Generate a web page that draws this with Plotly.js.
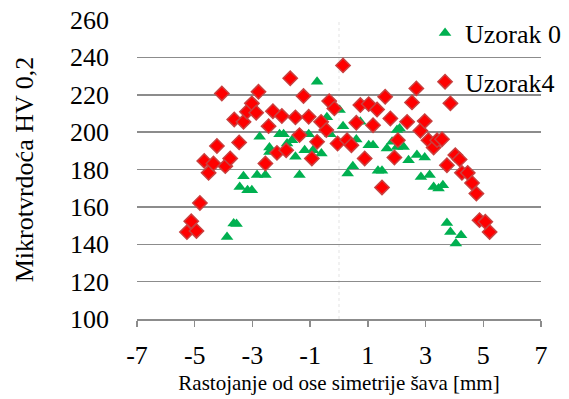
<!DOCTYPE html>
<html>
<head>
<meta charset="utf-8">
<script src="https://cdn.plot.ly/plotly-3.0.1.min.js"></script>
<style>html,body{margin:0;padding:0;background:#fff;}#chart{width:569px;height:399px;}</style>
</head>
<body>
<div id="chart"></div>
<script>
// Uzorak 0 (green triangles)
const x0 = [-3.88,-3.65,-3.55,-3.44,-3.31,-3.17,-3.02,-2.84,-2.75,-2.55,-2.41,-2.41,-2.06,-1.92,-1.80,-1.63,-1.51,-1.37,-1.19,-1.05,-0.90,-0.76,-0.61,-0.42,-0.30,0.02,0.14,0.30,0.48,0.60,0.74,1.03,1.18,1.35,1.49,1.66,1.84,2.01,2.10,2.01,2.24,2.41,2.70,2.97,2.84,3.14,3.28,3.45,3.60,3.74,3.86,4.05,4.23];
const y0 = [143.9,151.1,150.9,170.7,176.4,168.9,168.9,177.0,197.5,177.0,189.4,191.8,198.9,198.9,193.9,195.7,186.8,177.0,190.3,198.9,190.3,226.9,188.6,207.9,198.8,211.8,203.2,177.9,181.8,196.1,205.5,193.0,193.0,179.3,179.3,191.3,194.8,201.1,202.0,192.1,192.1,185.0,187.7,186.4,176.0,177.0,170.7,169.8,171.6,151.4,146.6,140.4,144.8];
// Uzorak4 (red diamonds)
const x4 = [-5.27,-5.12,-4.94,-4.82,-4.67,-4.52,-4.35,-4.23,-4.06,-3.94,-3.77,-3.63,-3.46,-3.31,-3.19,-3.02,-2.87,-2.79,-2.55,-2.44,-2.29,-2.15,-1.98,-1.83,-1.69,-1.51,-1.37,-1.23,-1.05,-0.94,-0.76,-0.62,-0.44,-0.34,-0.16,-0.05,0.14,0.28,0.43,0.60,0.74,0.89,1.03,1.18,1.32,1.49,1.60,1.78,1.92,2.04,2.36,2.53,2.68,2.82,2.97,3.10,3.28,3.40,3.57,3.74,3.86,4.03,4.18,4.26,4.46,4.61,4.76,4.87,5.07,5.22];
const y4 = [146.5,152.3,147.1,162.1,184.6,178.2,183.2,192.6,220.7,181.8,185.9,206.8,194.5,205.5,210.9,215.4,210.4,221.6,183.2,203.2,211.2,188.9,208.6,190.3,228.8,207.9,198.4,219.3,208.2,185.9,194.8,205.5,201.1,216.6,212.7,193.9,235.7,195.7,193.0,205.0,214.5,185.9,215.0,203.7,212.1,170.4,218.9,207.3,186.4,195.7,205.5,215.9,223.4,200.7,205.9,195.7,191.8,195.7,196.2,182.3,215.4,187.7,185.4,178.2,178.2,172.8,167.1,152.9,152.0,146.6];
const xTicks = [-7,-5,-3,-1,1,3,5,7];
const yTicks = [100,120,140,160,180,200,220,240,260];
const seriesNames = ['Uzorak 0','Uzorak4'];

const serif = 'Liberation Serif';
const traces = [
  {x:x0, y:y0, name:seriesNames[0], type:'scatter', mode:'markers', legendgroup:'a',
   marker:{symbol:'triangle-up', size:11, color:'#00B050', line:{width:0}}},
  {x:x4, y:y4, name:seriesNames[1], type:'scatter', mode:'markers', legendgroup:'b',
   marker:{symbol:'diamond', size:11, color:'#FF0000', line:{width:1.5, color:'#C8403F'}}}
];
const layout = {
  width:569, height:399,
  margin:{l:137, r:28, t:20, b:80, autoexpand:false},
  paper_bgcolor:'#fff', plot_bgcolor:'#fff',
  font:{family:serif, color:'#000'},
  showlegend:true,
  legend:{x:0.713, y:1.035, xanchor:'left', yanchor:'top', bgcolor:'rgba(0,0,0,0)',
          font:{family:serif, size:26, color:'#000'}, traceorder:'grouped', tracegroupgap:12,
          itemwidth:30},
  xaxis:{range:[-7,7], tickvals:xTicks, ticktext:xTicks.map(String), showgrid:false, zeroline:false,
         showline:true, linecolor:'#8c8c8c', linewidth:1.5, ticks:'outside', ticklen:6, tickcolor:'#8c8c8c', tickwidth:1.5,
         tickfont:{family:serif, size:26, color:'#000'}, ticklabelstandoff:6, automargin:false,
         title:{text:'Rastojanje od ose simetrije šava [mm]', font:{family:serif, size:21, color:'#000'}, standoff:6}},
  yaxis:{range:[100,260], tickvals:yTicks, showgrid:true, gridcolor:'#8c8c8c', gridwidth:1.5, zeroline:false,
         showline:false, ticks:'', tickfont:{family:serif, size:26, color:'#000'}, ticklabelstandoff:27, automargin:false,
         title:{text:'Mikrotvrdoća HV 0,2', font:{family:serif, size:26, color:'#000'}, standoff:28}},
  shapes:[{type:'line', xref:'x', yref:'paper', x0:0, x1:0, y0:0, y1:1,
           line:{color:'rgba(200,200,200,0.5)', width:1, dash:'dot'}, layer:'below'}]
};
Plotly.newPlot('chart', traces, layout, {displayModeBar:false, staticPlot:true});
</script>
</body>
</html>
